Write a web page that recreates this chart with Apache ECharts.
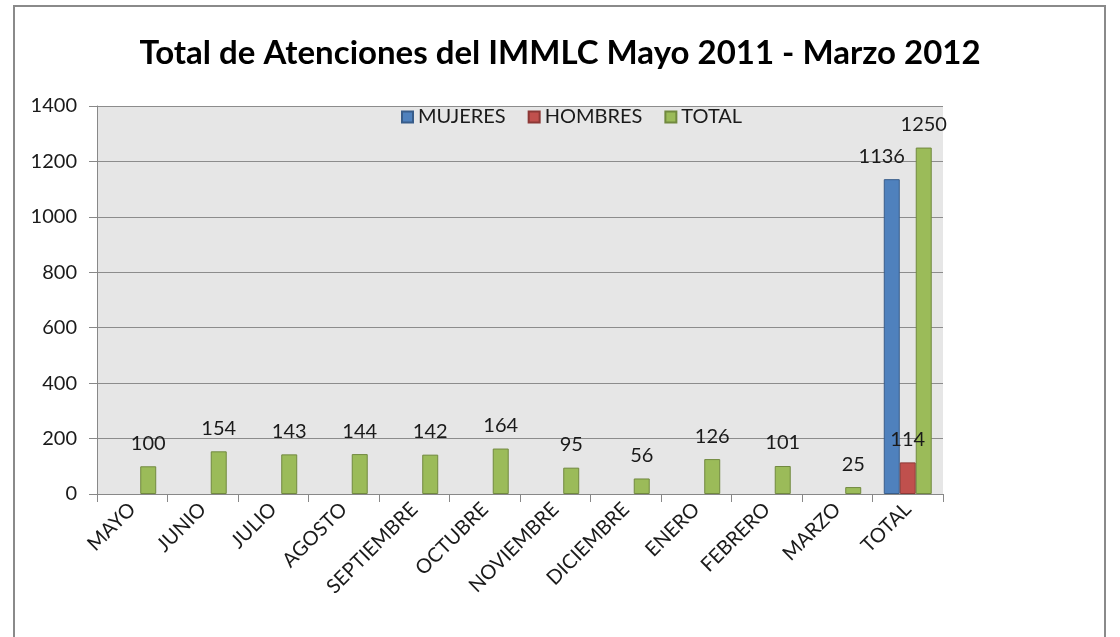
<!DOCTYPE html>
<html>
<head>
<meta charset="utf-8">
<script src="https://cdn.jsdelivr.net/npm/echarts@6/dist/echarts.min.js"></script>
<style>
  html, body { margin: 0; padding: 0; background: #fff; }
  #chart { width: 1120px; height: 637px; }
</style>
</head>
<body>
<div id="chart"></div>
<script>
  // categories and values
  var meses = ['MAYO', 'JUNIO', 'JULIO', 'AGOSTO', 'SEPTIEMBRE', 'OCTUBRE', 'NOVIEMBRE', 'DICIEMBRE', 'ENERO', 'FEBRERO', 'MARZO', 'TOTAL'];
  var mujeres = [null, null, null, null, null, null, null, null, null, null, null, 1136];
  var hombres = [null, null, null, null, null, null, null, null, null, null, null, 114];
  var total = [100, 154, 143, 144, 142, 164, 95, 56, 126, 101, 25, 1250];

  var fuente = 'Lato';

  function etiqueta(offsetX) {
    return {
      show: true,
      position: 'top',
      distance: 13,
      offset: [offsetX || 0, 0],
      color: '#1a1a1a',
      fontSize: 20,
      fontFamily: fuente
    };
  }

  var chart = echarts.init(document.getElementById('chart'));
  var option = {
    backgroundColor: '#fff',
    animation: false,
    textStyle: {fontFamily: fuente},
    title: {
      text: 'Total de Atenciones del IMMLC Mayo 2011 - Marzo 2012',
      left: 'center',
      top: 32,
      textStyle: {fontSize: 33, fontWeight: 'bold', color: '#000', fontFamily: fuente}
    },
    graphic: [
      {
        type: 'rect',
        shape: {x: 14, y: 6, width: 1091, height: 700},
        style: {fill: 'none', stroke: '#8a8a8a', lineWidth: 2},
        silent: true
      }
    ],
    legend: {
      top: 102,
      left: 396,
      itemWidth: 11,
      itemHeight: 11,
      itemGap: 22,
      icon: 'rect',
      textStyle: {fontSize: 20, color: '#1a1a1a', fontFamily: fuente},
      data: ['MUJERES', 'HOMBRES', 'TOTAL']
    },
    grid: {
      left: 97,
      right: 177,
      top: 106,
      bottom: 143,
      show: true,
      backgroundColor: '#e6e6e6',
      borderWidth: 0
    },
    xAxis: {
      type: 'category',
      data: meses,
      axisLine: {lineStyle: {color: '#888', width: 1}},
      axisTick: {show: true, length: 8, lineStyle: {color: '#888'}},
      axisLabel: {rotate: 45, interval: 0, fontSize: 20, color: '#1a1a1a', margin: 12, fontFamily: fuente}
    },
    yAxis: {
      type: 'value',
      min: 0,
      max: 1400,
      interval: 200,
      axisLine: {show: true, lineStyle: {color: '#888'}},
      axisTick: {show: true, length: 8, lineStyle: {color: '#888'}},
      splitLine: {lineStyle: {color: '#8c8c8c', width: 1}},
      axisLabel: {
        fontSize: 20, color: '#1a1a1a', margin: 20, fontFamily: fuente,
        formatter: function (v) { return String(v); }
      }
    },
    series: [
      {
        name: 'MUJERES',
        type: 'bar',
        data: mujeres,
        barGap: '0%',
        barCategoryGap: '32%',
        itemStyle: {color: '#4f81bd', borderColor: '#385d8a', borderWidth: 1},
        label: etiqueta(-10)
      },
      {
        name: 'HOMBRES',
        type: 'bar',
        data: hombres,
        itemStyle: {color: '#c0504d', borderColor: '#8c3836', borderWidth: 1},
        label: etiqueta(0)
      },
      {
        name: 'TOTAL',
        type: 'bar',
        data: total,
        itemStyle: {color: '#9bbb59', borderColor: '#71893f', borderWidth: 1},
        label: etiqueta(0)
      }
    ]
  };
  chart.setOption(option);
</script>
</body>
</html>
